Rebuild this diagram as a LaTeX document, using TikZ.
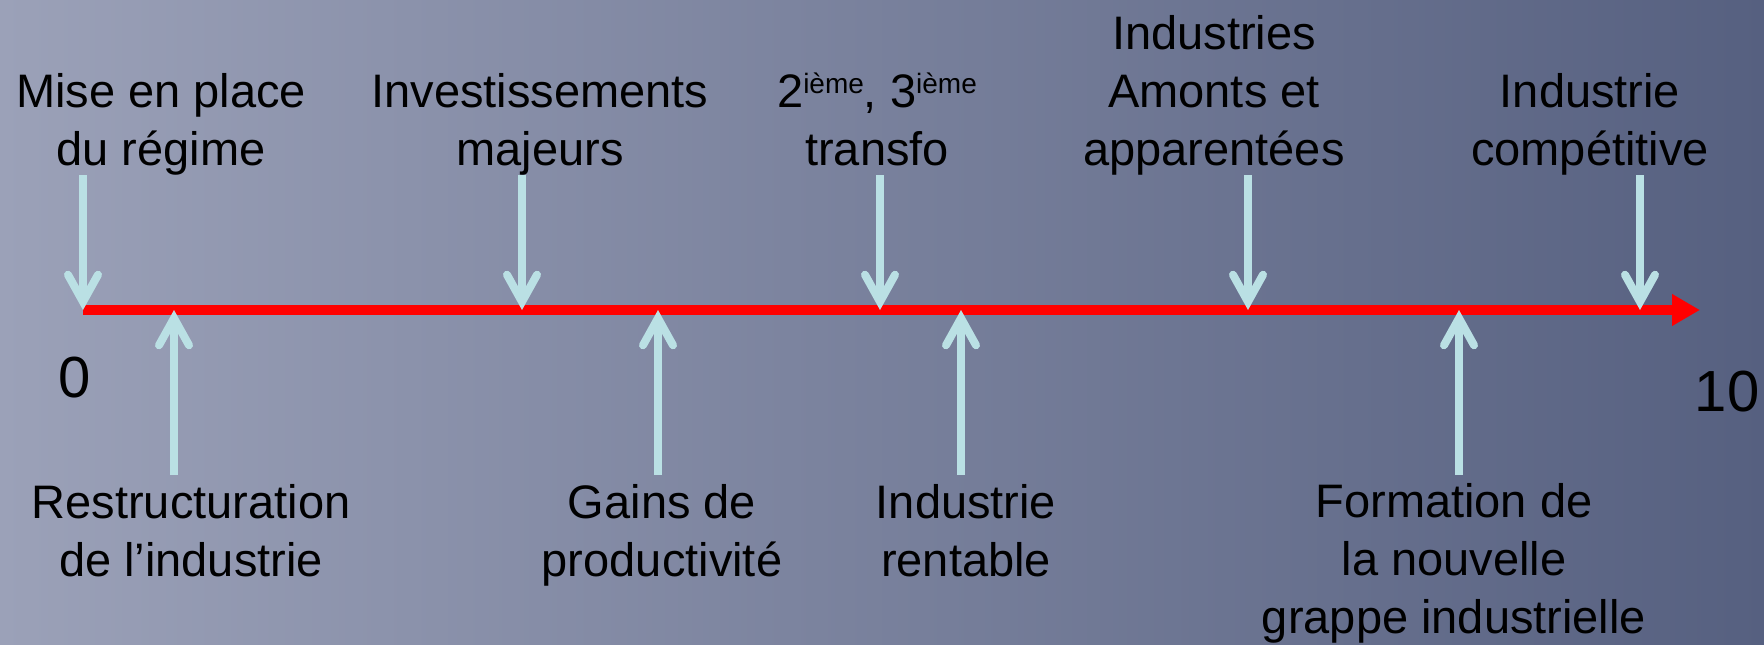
\documentclass[tikz,border=0pt]{standalone}
\usepackage{fontspec}
\setmainfont{Liberation Sans}
\usetikzlibrary{arrows.meta}
\definecolor{bgleft}{RGB}{155,161,184}
\definecolor{bgmid}{RGB}{118,121,150}
\definecolor{bgright}{RGB}{86,96,128}
\definecolor{arrowblue}{RGB}{186,224,228}
\begin{document}
\begin{tikzpicture}[x=1pt,y=-1pt,
  lbl/.style={align=center, inner sep=0pt, font=\fontsize{47}{58}\selectfont, anchor=base, text=black},
  num/.style={inner sep=0pt, font=\fontsize{58}{58}\selectfont, anchor=base, text=black},
  blarrow/.style={draw=arrowblue, line width=8pt, -{Straight Barb[length=27pt,width=30pt,line cap=round,line join=miter]}},
  timeline/.style={draw=red, line width=10pt, -{Triangle[length=28pt,width=30pt]}}]
\shade[left color=bgleft, middle color=bgmid, right color=bgright] (0,0) rectangle (1764,645);
\useasboundingbox (0,0) rectangle (1764,645);
% labels above (anchor = baseline of last line)
\node[lbl] (l1) at (161,165) {Mise en place\\du régime};
\node[lbl] (l2) at (540,165) {Investissements\\majeurs};
\node[lbl] (l3) at (877,165) {2\raisebox{14pt}{\fontsize{28}{28}\selectfont ième}, 3\raisebox{14pt}{\fontsize{28}{28}\selectfont ième}\\transfo};
\node[lbl] (l4) at (1214,165) {Industries\\Amonts et\\apparentées};
\node[lbl] (l5) at (1590,165) {Industrie\\compétitive};
% labels below
\node[lbl] (b1) at (191,576) {Restructuration\\de l’industrie};
\node[lbl] (b2) at (662,576) {Gains de\\productivité};
\node[lbl] (b3) at (966,576) {Industrie\\rentable};
\node[lbl] (b4) at (1454,633) {Formation de\\la nouvelle\\grappe industrielle};
% numbers
\node[num] (n0) at (75,397) {0};
\node[num] (n10) at (1727,411) {10};
% timeline
\coordinate (t0) at (83,310);
\coordinate (tend) at (1700,310);
\draw[timeline] (t0) -- (tend);
% down arrows
\foreach \i/\x in {1/83,2/522,3/880,4/1248,5/1640}{
  \coordinate (ds\i) at (\x,175);
  \coordinate (de\i) at (\x,310);
  \draw[blarrow] (ds\i) -- (de\i);
}
% up arrows
\foreach \i/\x in {1/174,2/658,3/961,4/1459}{
  \coordinate (us\i) at (\x,475);
  \coordinate (ue\i) at (\x,310);
  \draw[blarrow] (us\i) -- (ue\i);
}
\end{tikzpicture}
\end{document}
